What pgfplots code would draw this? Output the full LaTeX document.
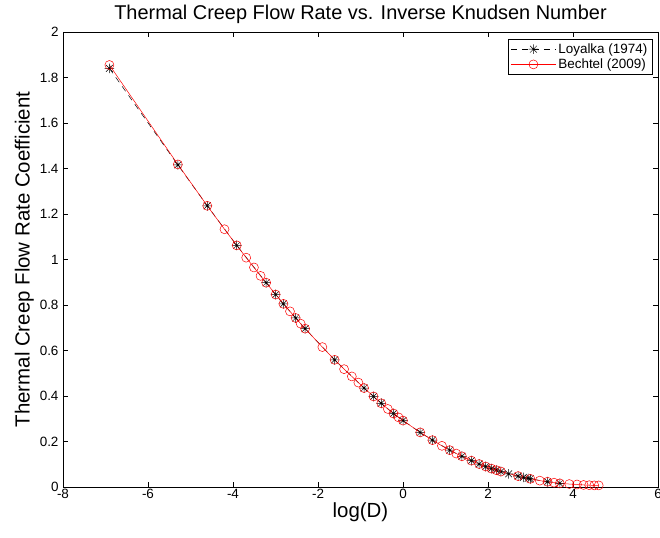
\documentclass[border=0pt]{standalone}
\usepackage{pgfplots}
\pgfplotsset{compat=1.18}
\usepackage{fontspec}
\setmainfont{Liberation Sans}
\pgfdeclareplotmark{star8}{%
  \pgfpathmoveto{\pgfqpoint{-\pgfplotmarksize}{0pt}}\pgfpathlineto{\pgfqpoint{\pgfplotmarksize}{0pt}}%
  \pgfpathmoveto{\pgfqpoint{0pt}{-\pgfplotmarksize}}\pgfpathlineto{\pgfqpoint{0pt}{\pgfplotmarksize}}%
  \pgfpathmoveto{\pgfqpoint{-0.707\pgfplotmarksize}{-0.707\pgfplotmarksize}}\pgfpathlineto{\pgfqpoint{0.707\pgfplotmarksize}{0.707\pgfplotmarksize}}%
  \pgfpathmoveto{\pgfqpoint{-0.707\pgfplotmarksize}{0.707\pgfplotmarksize}}\pgfpathlineto{\pgfqpoint{0.707\pgfplotmarksize}{-0.707\pgfplotmarksize}}%
  \pgfusepathqstroke}
\begin{document}
\begin{tikzpicture}
\begin{axis}[
  scale only axis, width=595bp, height=455bp,
  xmin=-8, xmax=6, ymin=0, ymax=2,
  xtick={-8,-6,...,6}, ytick={0,0.2,...,2.01},
  /pgf/number format/assume math mode=true,
  tick label style={font=\fontsize{13.5}{15}\selectfont},
  xticklabel style={yshift=1bp},
  yticklabel style={/pgf/number format/fixed, xshift=-1bp},
  major tick length=5bp,
  tick style={black, line width=0.5pt},
  axis line style={line width=0.8pt},
  title={Thermal Creep Flow Rate vs. Inverse Knudsen Number},
  title style={font=\fontsize{20}{22}\selectfont, yshift=-1bp},
  xlabel={log(D)}, ylabel={Thermal Creep Flow Rate Coefficient},
  label style={font=\fontsize{20.5}{22}\selectfont},
  xlabel style={yshift=3bp},
  ylabel style={yshift=-1bp},
  legend style={at={(0.99,0.985)}, anchor=north east, font=\fontsize{13.5}{15}\selectfont,
    draw=black, line width=0.5pt, inner sep=2.5pt, row sep=0pt},
  legend cell align=left,
  legend image code/.code={\draw[mark repeat=2,mark phase=2,#1] plot coordinates {(0cm,0cm) (0.8cm,0cm) (1.6cm,0cm)};},
]
\addplot[black, dash pattern=on 6bp off 5bp, line width=0.5pt, mark=star8, mark size=4.8bp, mark options={solid}] coordinates {
(-6.908,1.840) (-5.298,1.416) (-4.605,1.236) (-3.912,1.062) (-3.219,0.898) (-2.996,0.846)
(-2.813,0.805) (-2.526,0.743) (-2.303,0.696) (-1.609,0.559) (-0.916,0.435) (-0.693,0.398)
(-0.511,0.368) (-0.223,0.323) (0,0.292) (0.405,0.240) (0.693,0.206) (1.099,0.162)
(1.386,0.135) (1.609,0.116) (1.792,0.101) (1.946,0.090) (2.079,0.081) (2.197,0.074)
(2.303,0.068) (2.485,0.058) (2.708,0.048) (2.833,0.042) (2.944,0.038) (2.996,0.036)
(3.401,0.023) (3.689,0.016)
};
\addlegendentry{Loyalka (1974)}
\addplot[red, solid, line width=0.5pt, mark=o, mark size=4.5bp] coordinates {
(-6.908,1.855) (-5.298,1.418) (-4.605,1.236) (-4.200,1.133) (-3.912,1.062) (-3.689,1.008)
(-3.507,0.965) (-3.352,0.928) (-3.219,0.898) (-2.996,0.846) (-2.813,0.805) (-2.659,0.772)
(-2.526,0.743) (-2.408,0.718) (-2.303,0.696) (-1.897,0.615) (-1.609,0.559) (-1.386,0.518)
(-1.204,0.486) (-1.050,0.459) (-0.916,0.435) (-0.693,0.398) (-0.511,0.368) (-0.357,0.343)
(-0.223,0.323) (-0.105,0.306) (0,0.292) (0.405,0.240) (0.693,0.206) (0.916,0.181)
(1.099,0.162) (1.253,0.147) (1.386,0.135) (1.609,0.116) (1.792,0.101) (1.946,0.090)
(2.079,0.081) (2.197,0.074) (2.303,0.068) (2.708,0.048) (2.996,0.036) (3.219,0.028)
(3.401,0.023) (3.555,0.019) (3.689,0.016) (3.912,0.013) (4.094,0.011) (4.248,0.009)
(4.382,0.008) (4.500,0.007) (4.605,0.007)
};
\addlegendentry{Bechtel (2009)}
\end{axis}
\pgfresetboundingbox
\useasboundingbox (current axis.south west) ++(-63bp,-51bp) rectangle ++(660bp,538bp);
\end{tikzpicture}
\end{document}
